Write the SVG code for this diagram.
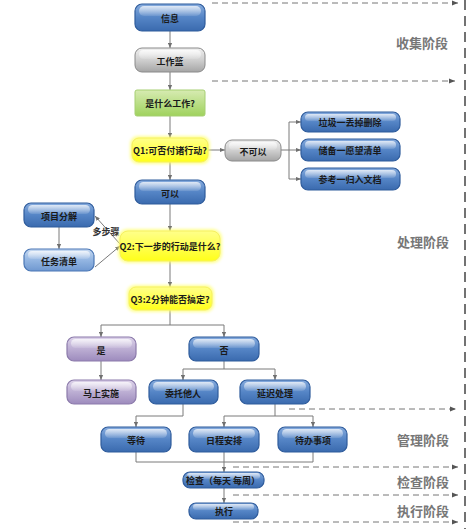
<svg xmlns="http://www.w3.org/2000/svg" width="468" height="529" viewBox="0 0 468 529">
<defs>
<linearGradient id="gBlue" x1="0" y1="0" x2="0" y2="1">
<stop offset="0" stop-color="#86abdd"/><stop offset="0.5" stop-color="#5585c6"/><stop offset="1" stop-color="#3a6aae"/>
</linearGradient>
<linearGradient id="gLBlue" x1="0" y1="0" x2="0" y2="1">
<stop offset="0" stop-color="#c6d9f1"/><stop offset="0.5" stop-color="#94b6e2"/><stop offset="1" stop-color="#6f98d0"/>
</linearGradient>
<linearGradient id="gGray" x1="0" y1="0" x2="0" y2="1">
<stop offset="0" stop-color="#f0f0f0"/><stop offset="0.5" stop-color="#cfcfcf"/><stop offset="1" stop-color="#a5a5a5"/>
</linearGradient>
<linearGradient id="gGreen" x1="0" y1="0" x2="0" y2="1">
<stop offset="0" stop-color="#d7ebb2"/><stop offset="1" stop-color="#9fd25d"/>
</linearGradient>
<linearGradient id="gYellow" x1="0" y1="0" x2="0" y2="1">
<stop offset="0" stop-color="#ffff8a"/><stop offset="1" stop-color="#ffff1a"/>
</linearGradient>
<linearGradient id="gPurple" x1="0" y1="0" x2="0" y2="1">
<stop offset="0" stop-color="#ddd3ea"/><stop offset="0.5" stop-color="#bcaed3"/><stop offset="1" stop-color="#9d8bbd"/>
</linearGradient>
<linearGradient id="gGloss" x1="0" y1="0" x2="0" y2="1">
<stop offset="0" stop-color="#ffffff" stop-opacity="0.75"/><stop offset="1" stop-color="#ffffff" stop-opacity="0.1"/>
</linearGradient>
<filter id="glow" x="-20%" y="-30%" width="140%" height="160%">
<feGaussianBlur stdDeviation="1.5"/>
</filter>
<marker id="ar" viewBox="0 0 6 6" refX="6" refY="3" markerWidth="5" markerHeight="5" orient="auto">
<path d="M0,0.5 L6,3 L0,5.5 z" fill="#707070"/>
</marker>
<marker id="ard" viewBox="0 0 6 6" refX="6" refY="3" markerWidth="6" markerHeight="6" orient="auto">
<path d="M0,0.5 L6,3 L0,5.5 z" fill="#555"/>
</marker>
</defs>
<style>
.blue{fill:url(#gBlue);stroke:#2f5c9c;stroke-width:1.2}
.lblue{fill:url(#gLBlue);stroke:#4b77b5;stroke-width:1.2}
.gray{fill:url(#gGray);stroke:#8a8a8a;stroke-width:1}
.green{fill:url(#gGreen);stroke:#a6cf72;stroke-width:1}
.yellow{fill:url(#gYellow);stroke:#f5f060;stroke-width:1}
.purple{fill:url(#gPurple);stroke:#8c7bab;stroke-width:1.2}
.gloss{fill:url(#gGloss)}
.halo{fill:#ffff66;opacity:0.7}
text{font-family:"Noto Sans CJK SC","Liberation Sans",sans-serif;font-weight:bold;text-anchor:middle;dominant-baseline:central}
.t{font-size:9px;fill:#1a1a1a}
.tq{font-size:9px;fill:#1a1a1a}
.stage{font-size:13px;fill:#777;font-weight:bold}
.lbl{font-size:9px;fill:#333}
.c{fill:none;stroke:#7a7a7a;stroke-width:1}
.d{fill:none;stroke:#777;stroke-width:1;stroke-dasharray:6 4}
</style>

<g id="connectors">
<path class="c" d="M170,31 V48" marker-end="url(#ar)"/>
<path class="c" d="M170,72 V90" marker-end="url(#ar)"/>
<path class="c" d="M170,116 V138" marker-end="url(#ar)"/>
<path class="c" d="M170,162 V180" marker-end="url(#ar)"/>
<path class="c" d="M208,150 H225" marker-end="url(#ar)"/>
<path class="c" d="M281,150 H289"/>
<path class="c" d="M289,122 V179"/>
<path class="c" d="M289,122 H301" marker-end="url(#ar)"/>
<path class="c" d="M289,150 H301" marker-end="url(#ar)"/>
<path class="c" d="M289,179 H301" marker-end="url(#ar)"/>
<path class="c" d="M170,204 V231" marker-end="url(#ar)"/>
<path class="c" d="M120,244 L95,216" marker-end="url(#ar)"/>
<path class="c" d="M95,267 L120,246" marker-end="url(#ar)"/>
<path class="c" d="M59,227 V249" marker-end="url(#ar)"/>
<path class="c" d="M170,261 V287" marker-end="url(#ar)"/>
<path class="c" d="M170,310 V325 M101,325 H224"/>
<path class="c" d="M101,325 V337" marker-end="url(#ar)"/>
<path class="c" d="M224,325 V337" marker-end="url(#ar)"/>
<path class="c" d="M101,361 V380" marker-end="url(#ar)"/>
<path class="c" d="M224,361 V369 M183,369 H275"/>
<path class="c" d="M183,369 V380" marker-end="url(#ar)"/>
<path class="c" d="M275,369 V380" marker-end="url(#ar)"/>
<path class="c" d="M183,404 V416 H136"/>
<path class="c" d="M136,416 V427" marker-end="url(#ar)"/>
<path class="c" d="M275,404 V416 M224,416 H313"/>
<path class="c" d="M224,416 V427" marker-end="url(#ar)"/>
<path class="c" d="M313,416 V427" marker-end="url(#ar)"/>
<path class="c" d="M136,452 V462 H313 V452"/>
<path class="c" d="M224,452 V472" marker-end="url(#ar)"/>
<path class="c" d="M224,488 V503" marker-end="url(#ar)"/>
<path class="d" d="M212,3 H458" marker-end="url(#ard)"/>
<path class="d" d="M212,81 H455" marker-end="url(#ard)"/>
<path class="d" d="M289,409 H456" marker-end="url(#ard)"/>
<path class="d" d="M233,467 H458" marker-end="url(#ard)"/>
<path class="d" d="M233,495 H458" marker-end="url(#ard)"/>
<path class="d" d="M233,522 H458" marker-end="url(#ard)"/>
<path d="M465,0 V529" fill="none" stroke="#444" stroke-width="1.5" stroke-dasharray="10 6"/>
</g>

<g id="stages">
<text class="stage" x="422" y="42">收集阶段</text>
<text class="stage" x="423" y="241">处理阶段</text>
<text class="stage" x="423" y="439">管理阶段</text>
<text class="stage" x="423" y="481">检查阶段</text>
<text class="stage" x="423" y="510">执行阶段</text>
</g>

<g id="n-info"><rect class="blue" x="135" y="4" width="70" height="27" rx="7"/><rect class="gloss" x="139" y="6" width="62" height="10" rx="5"/><text class="t" x="170" y="18">信息</text></g>
<g id="n-basket"><rect class="gray" x="135" y="48" width="70" height="24" rx="7"/><rect class="gloss" x="139" y="50" width="62" height="9" rx="4.5"/><text class="t" x="170" y="61">工作篮</text></g>
<g id="n-what"><rect class="green" x="135" y="90" width="70" height="26" rx="2"/><text class="t" x="170" y="103">是什么工作?</text></g>
<g id="n-q1"><rect class="halo" x="130" y="136" width="80" height="28" rx="8" filter="url(#glow)"/><rect class="yellow" x="132" y="138" width="76" height="24" rx="7"/><text class="tq" x="170" y="150">Q1:可否付诸行动?</text></g>
<g id="n-cannot"><rect class="gray" x="225" y="140" width="56" height="21" rx="7"/><rect class="gloss" x="229" y="142" width="48" height="8" rx="4"/><text class="t" x="253" y="151">不可以</text></g>
<g id="n-trash"><rect class="blue" x="301" y="112" width="99" height="20" rx="7"/><rect class="gloss" x="305" y="114" width="91" height="7" rx="3.5"/><text class="t" x="350" y="122">垃圾一丢掉删除</text></g>
<g id="n-reserve"><rect class="blue" x="301" y="139" width="99" height="22" rx="7"/><rect class="gloss" x="305" y="141" width="91" height="8" rx="4"/><text class="t" x="350" y="150">储备一愿望清单</text></g>
<g id="n-ref"><rect class="blue" x="301" y="168" width="99" height="22" rx="7"/><rect class="gloss" x="305" y="170" width="91" height="8" rx="4"/><text class="t" x="350" y="179">参考一归入文档</text></g>
<g id="n-can"><rect class="blue" x="135" y="180" width="70" height="24" rx="7"/><rect class="gloss" x="139" y="182" width="62" height="9" rx="4.5"/><text class="t" x="170" y="193">可以</text></g>
<g id="n-proj"><rect class="blue" x="24" y="203" width="70" height="24" rx="7"/><rect class="gloss" x="28" y="205" width="62" height="9" rx="4.5"/><text class="t" x="59" y="216">项目分解</text></g>
<g id="n-task"><rect class="lblue" x="24" y="249" width="70" height="22" rx="7"/><rect class="gloss" x="28" y="251" width="62" height="8" rx="4"/><text class="t" x="59" y="261">任务清单</text></g>
<text class="lbl" x="106" y="231">多步骤</text>
<g id="n-q2"><rect class="halo" x="118" y="229" width="104" height="34" rx="9" filter="url(#glow)"/><rect class="yellow" x="120" y="231" width="100" height="30" rx="8"/><text class="tq" x="170" y="246">Q2:下一步的行动是什么?</text></g>
<g id="n-q3"><rect class="halo" x="127" y="285" width="87" height="27" rx="8" filter="url(#glow)"/><rect class="yellow" x="129" y="287" width="83" height="23" rx="7"/><text class="tq" x="170" y="299">Q3:2分钟能否搞定?</text></g>
<g id="n-yes"><rect class="purple" x="67" y="337" width="69" height="24" rx="7"/><rect class="gloss" x="71" y="339" width="61" height="9" rx="4.5"/><text class="t" x="101" y="350">是</text></g>
<g id="n-no"><rect class="blue" x="189" y="337" width="70" height="24" rx="7"/><rect class="gloss" x="193" y="339" width="62" height="9" rx="4.5"/><text class="t" x="224" y="350">否</text></g>
<g id="n-now"><rect class="purple" x="67" y="380" width="69" height="24" rx="7"/><rect class="gloss" x="71" y="382" width="61" height="9" rx="4.5"/><text class="t" x="101" y="393">马上实施</text></g>
<g id="n-delegate"><rect class="blue" x="149" y="380" width="69" height="24" rx="7"/><rect class="gloss" x="153" y="382" width="61" height="9" rx="4.5"/><text class="t" x="183" y="393">委托他人</text></g>
<g id="n-defer"><rect class="blue" x="240" y="380" width="70" height="24" rx="7"/><rect class="gloss" x="244" y="382" width="62" height="9" rx="4.5"/><text class="t" x="275" y="393">延迟处理</text></g>
<g id="n-wait"><rect class="blue" x="101" y="427" width="70" height="25" rx="7"/><rect class="gloss" x="105" y="429" width="62" height="9" rx="4.5"/><text class="t" x="136" y="440">等待</text></g>
<g id="n-sched"><rect class="blue" x="189" y="427" width="70" height="25" rx="7"/><rect class="gloss" x="193" y="429" width="62" height="9" rx="4.5"/><text class="t" x="224" y="440">日程安排</text></g>
<g id="n-todo"><rect class="blue" x="278" y="427" width="69" height="25" rx="7"/><rect class="gloss" x="282" y="429" width="61" height="9" rx="4.5"/><text class="t" x="313" y="440">待办事项</text></g>
<g id="n-check"><rect class="blue" x="183" y="472" width="81" height="16" rx="7"/><rect class="gloss" x="187" y="473" width="73" height="6" rx="3"/><text class="t" x="223" y="480.5">检查（每天 每周）</text></g>
<g id="n-exec"><rect class="blue" x="189" y="503" width="69" height="16" rx="7"/><rect class="gloss" x="193" y="504" width="61" height="6" rx="3"/><text class="t" x="224" y="511.5">执行</text></g>
</svg>
